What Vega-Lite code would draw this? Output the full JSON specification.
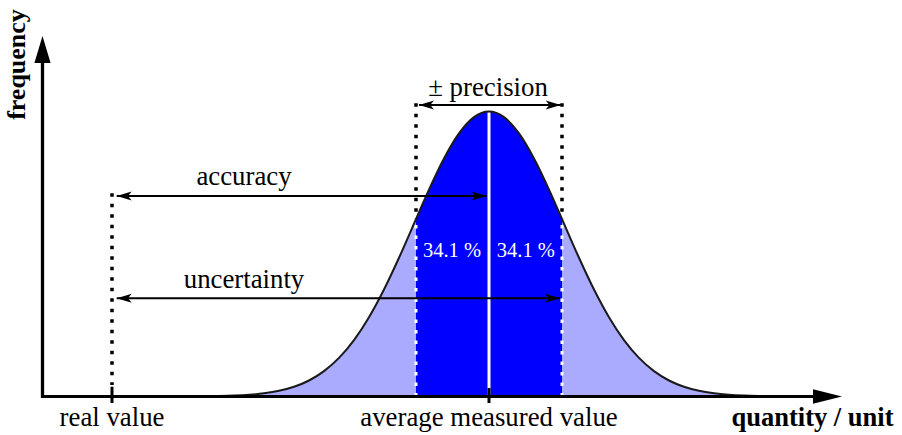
{
  "$schema": "https://vega.github.io/schema/vega-lite/v6.json",
  "width": 902,
  "height": 435,
  "autosize": {"type": "fit", "contains": "padding"},
  "padding": 0,
  "background": "white",
  "config": {"view": {"stroke": null}, "axis": {"disable": true}},
  "datasets": {
    "curve": [
      {"z": -5.9, "f": 0},
      {"z": -5.0, "f": 0.000004},
      {"z": -4.4, "f": 0.00006},
      {"z": -4.2, "f": 0.00015},
      {"z": -4.0, "f": 0.00034},
      {"z": -3.8, "f": 0.00073},
      {"z": -3.6, "f": 0.00154},
      {"z": -3.4, "f": 0.00309},
      {"z": -3.2, "f": 0.00598},
      {"z": -3.0, "f": 0.01111},
      {"z": -2.8, "f": 0.01984},
      {"z": -2.6, "f": 0.03405},
      {"z": -2.4, "f": 0.05613},
      {"z": -2.2, "f": 0.08892},
      {"z": -2.0, "f": 0.13534},
      {"z": -1.8, "f": 0.19790},
      {"z": -1.6, "f": 0.27804},
      {"z": -1.4, "f": 0.37531},
      {"z": -1.2, "f": 0.48675},
      {"z": -1.0, "f": 0.60653},
      {"z": -0.9733, "f": 0.6227},
      {"z": -0.8, "f": 0.72615},
      {"z": -0.6, "f": 0.83527},
      {"z": -0.4, "f": 0.92312},
      {"z": -0.2, "f": 0.98020},
      {"z": 0, "f": 1},
      {"z": 0.2, "f": 0.98020},
      {"z": 0.4, "f": 0.92312},
      {"z": 0.6, "f": 0.83527},
      {"z": 0.8, "f": 0.72615},
      {"z": 0.9733, "f": 0.6227},
      {"z": 1.0, "f": 0.60653},
      {"z": 1.2, "f": 0.48675},
      {"z": 1.4, "f": 0.37531},
      {"z": 1.6, "f": 0.27804},
      {"z": 1.8, "f": 0.19790},
      {"z": 2.0, "f": 0.13534},
      {"z": 2.2, "f": 0.08892},
      {"z": 2.4, "f": 0.05613},
      {"z": 2.6, "f": 0.03405},
      {"z": 2.8, "f": 0.01984},
      {"z": 3.0, "f": 0.01111},
      {"z": 3.2, "f": 0.00598},
      {"z": 3.4, "f": 0.00309},
      {"z": 3.6, "f": 0.00154},
      {"z": 3.8, "f": 0.00073},
      {"z": 4.0, "f": 0.00034},
      {"z": 4.2, "f": 0.00015},
      {"z": 4.4, "f": 0.00006}
    ],
    "arrows": [
      {"name": "accuracy", "x1": -4.964, "x2": -0.031, "y": 0.7035},
      {"name": "uncertainty", "x1": -4.964, "x2": 0.9467, "y": 0.3446},
      {"name": "precision", "x1": -0.9333, "x2": 0.956, "y": 1.0228}
    ]
  },
  "layer": [
    {
      "data": {"name": "curve"},
      "mark": {"type": "area", "interpolate": "monotone", "fill": "#aaaaff"},
      "encoding": {
        "x": {"field": "z", "type": "quantitative", "scale": {"domain": [-6.52, 5.50667], "nice": false, "zero": false}, "axis": null},
        "y": {"field": "f", "type": "quantitative", "scale": {"domain": [-0.13509, 1.39123], "nice": false, "zero": false}, "axis": null},
        "y2": {"datum": 0}
      }
    },
    {
      "data": {"name": "curve"},
      "transform": [{"filter": {"field": "z", "range": [-0.9733, 0.9733]}}],
      "mark": {"type": "area", "interpolate": "monotone", "fill": "#0000ff"},
      "encoding": {
        "x": {"field": "z", "type": "quantitative"},
        "y": {"field": "f", "type": "quantitative"},
        "y2": {"datum": 0}
      }
    },
    {
      "data": {"values": [{"x": -0.9733, "y1": 0, "y2": 0.6227}, {"x": 0.9733, "y1": 0, "y2": 0.6227}]},
      "mark": {"type": "rule", "stroke": "white", "strokeWidth": 3, "strokeDash": [3.5, 7]},
      "encoding": {
        "x": {"field": "x", "type": "quantitative"},
        "y": {"field": "y1", "type": "quantitative"},
        "y2": {"field": "y2"}
      }
    },
    {
      "data": {"values": [{"x": 0, "y1": 0, "y2": 1}]},
      "mark": {"type": "rule", "stroke": "white", "strokeWidth": 3},
      "encoding": {
        "x": {"field": "x", "type": "quantitative"},
        "y": {"field": "y1", "type": "quantitative"},
        "y2": {"field": "y2"}
      }
    },
    {
      "data": {"name": "curve"},
      "mark": {"type": "line", "interpolate": "monotone", "stroke": "#1a1a1a", "strokeWidth": 2},
      "encoding": {
        "x": {"field": "z", "type": "quantitative"},
        "y": {"field": "f", "type": "quantitative"}
      }
    },
    {
      "data": {"values": [{"x": -0.9733, "y1": 0.6227, "y2": 1.029}, {"x": 0.9733, "y1": 0.6227, "y2": 1.029}, {"x": -5.0267, "y1": 0.04, "y2": 0.713}]},
      "mark": {"type": "rule", "stroke": "black", "strokeWidth": 3.5, "strokeDash": [3.5, 7]},
      "encoding": {
        "x": {"field": "x", "type": "quantitative"},
        "y": {"field": "y2", "type": "quantitative"},
        "y2": {"field": "y1"}
      }
    },
    {
      "data": {"values": [{"x1": -5.973, "x2": 4.40, "y": 0}]},
      "mark": {"type": "rule", "stroke": "black", "strokeWidth": 3},
      "encoding": {
        "x": {"field": "x1", "type": "quantitative"},
        "x2": {"field": "x2"},
        "y": {"field": "y", "type": "quantitative"}
      }
    },
    {
      "data": {"values": [{"x": -5.9533, "y1": -0.0053, "y2": 1.17}]},
      "mark": {"type": "rule", "stroke": "black", "strokeWidth": 3.3},
      "encoding": {
        "x": {"field": "x", "type": "quantitative"},
        "y": {"field": "y1", "type": "quantitative"},
        "y2": {"field": "y2"}
      }
    },
    {
      "data": {"values": [{"x": -5.0267, "y1": -0.0228, "y2": 0.0344}, {"x": 0, "y1": -0.0228, "y2": 0.0298}]},
      "mark": {"type": "rule", "stroke": "black", "strokeWidth": 3},
      "encoding": {
        "x": {"field": "x", "type": "quantitative"},
        "y": {"field": "y1", "type": "quantitative"},
        "y2": {"field": "y2"}
      }
    },
    {
      "data": {"name": "arrows"},
      "mark": {"type": "rule", "stroke": "black", "strokeWidth": 2},
      "encoding": {
        "x": {"field": "x1", "type": "quantitative"},
        "x2": {"field": "x2"},
        "y": {"field": "y", "type": "quantitative"}
      }
    },
    {
      "data": {"name": "arrows"},
      "mark": {"type": "point", "shape": "M0,0 L2,-0.6 L1.5,0 L2,0.6 Z", "size": 225, "filled": true, "fill": "black", "strokeWidth": 0, "opacity": 1},
      "encoding": {
        "x": {"field": "x1", "type": "quantitative"},
        "y": {"field": "y", "type": "quantitative"}
      }
    },
    {
      "data": {"name": "arrows"},
      "mark": {"type": "point", "shape": "M0,0 L-2,-0.6 L-1.5,0 L-2,0.6 Z", "size": 225, "filled": true, "fill": "black", "strokeWidth": 0, "opacity": 1},
      "encoding": {
        "x": {"field": "x2", "type": "quantitative"},
        "y": {"field": "y", "type": "quantitative"}
      }
    },
    {
      "data": {"values": [{"x": 4.7067, "y": 0}]},
      "mark": {"type": "point", "shape": "M0,0 L-2,-0.5 L-2,0.5 Z", "size": 841, "filled": true, "fill": "black", "strokeWidth": 0, "opacity": 1},
      "encoding": {
        "x": {"field": "x", "type": "quantitative"},
        "y": {"field": "y", "type": "quantitative"}
      }
    },
    {
      "data": {"values": [{"x": -5.9533, "y": 1.265}]},
      "mark": {"type": "point", "shape": "M0,0 L-0.6,2 L0.6,2 Z", "size": 729, "filled": true, "fill": "black", "strokeWidth": 0, "opacity": 1},
      "encoding": {
        "x": {"field": "x", "type": "quantitative"},
        "y": {"field": "y", "type": "quantitative"}
      }
    },
    {
      "data": {"values": [
        {"label": "accuracy", "x": -3.2667, "y": 0.742},
        {"label": "uncertainty", "x": -3.2667, "y": 0.3796},
        {"label": "± precision", "x": -0.0133, "y": 1.0561},
        {"label": "real value", "x": -5.0267, "y": -0.1035},
        {"label": "average measured value", "x": 0, "y": -0.1035}
      ]},
      "mark": {"type": "text", "font": "Liberation Serif", "fontSize": 26.8, "align": "center", "baseline": "alphabetic", "fill": "black"},
      "encoding": {
        "x": {"field": "x", "type": "quantitative"},
        "y": {"field": "y", "type": "quantitative"},
        "text": {"field": "label"}
      }
    },
    {
      "data": {"values": [{"label": "quantity / unit", "x": 4.3133, "y": -0.1035}]},
      "mark": {"type": "text", "font": "Liberation Serif", "fontSize": 26.5, "fontWeight": "bold", "align": "center", "baseline": "alphabetic", "fill": "black"},
      "encoding": {
        "x": {"field": "x", "type": "quantitative"},
        "y": {"field": "y", "type": "quantitative"},
        "text": {"field": "label"}
      }
    },
    {
      "data": {"values": [{"label": "frequency", "x": -6.19, "y": 1.1649}]},
      "mark": {"type": "text", "font": "Liberation Serif", "fontSize": 26, "fontWeight": "bold", "align": "center", "baseline": "alphabetic", "angle": 270, "fill": "black"},
      "encoding": {
        "x": {"field": "x", "type": "quantitative"},
        "y": {"field": "y", "type": "quantitative"},
        "text": {"field": "label"}
      }
    },
    {
      "data": {"values": [{"label": "34.1 %", "x": -0.4933, "y": 0.4905}, {"label": "34.1 %", "x": 0.4907, "y": 0.4905}]},
      "mark": {"type": "text", "font": "Liberation Serif", "fontSize": 20.5, "align": "center", "baseline": "alphabetic", "fill": "white"},
      "encoding": {
        "x": {"field": "x", "type": "quantitative"},
        "y": {"field": "y", "type": "quantitative"},
        "text": {"field": "label"}
      }
    }
  ]
}
